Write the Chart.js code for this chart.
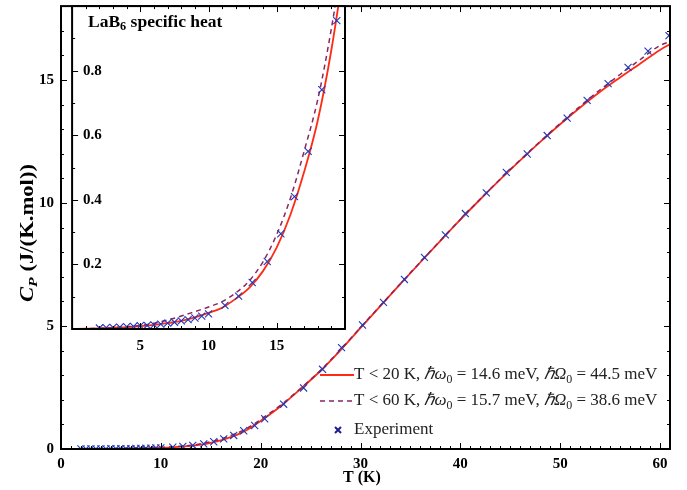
<!DOCTYPE html>
<html>
<head>
<meta charset="utf-8">
<script src="https://cdn.jsdelivr.net/npm/chart.js@4.4.0/dist/chart.umd.min.js"></script>
<style>
  body { margin: 0; background: #fff; }
  #wrap { position: relative; width: 687px; height: 490px; }
  #main { position: absolute; left: 0; top: 0; }
  #inset { position: absolute; left: 66px; top: 0; }
</style>
</head>
<body>
<div id="wrap">
  <canvas id="main" width="687" height="490"></canvas>
  <canvas id="inset" width="290" height="362"></canvas>
</div>
<script>
// experiment, LaB6 specific heat (J/(K.mol))
const expT = [2.0, 2.5, 3.0, 3.5, 4.0, 4.5, 5.0, 5.5, 6.0, 6.5, 7.0, 7.5, 8.0, 8.5, 9.0, 9.5, 10.0,
  11.2, 12.2, 13.2, 14.3, 15.3, 16.3, 17.3, 18.3, 19.4, 20.4, 22.3, 24.3, 26.2, 28.1,
  30.2, 32.3, 34.4, 36.4, 38.5, 40.5, 42.6, 44.6, 46.7, 48.7, 50.7, 52.7, 54.8, 56.8, 58.8, 60.9];
const expCp = [0.003, 0.004, 0.005, 0.006, 0.007, 0.008, 0.010, 0.011, 0.013, 0.015, 0.018, 0.021, 0.025, 0.029, 0.034, 0.040, 0.047,
  0.073, 0.102, 0.144, 0.209, 0.295, 0.41, 0.55, 0.741, 0.955, 1.23, 1.82, 2.48, 3.24, 4.12,
  5.04, 5.96, 6.89, 7.79, 8.70, 9.57, 10.41, 11.24, 11.99, 12.74, 13.45, 14.17, 14.85, 15.51, 16.17, 16.80];

// model curves
const fitT = [0, 1, 2, 3, 4, 5, 6, 7, 8, 9, 10, 11, 12, 13, 14, 15, 16, 17, 18, 19, 20,
  22, 24, 26, 28, 30, 32, 34, 36, 38, 40, 42, 44, 46, 48, 50, 52, 54, 56, 58, 60, 61];
const fit20Cp = [0, 0.001, 0.002, 0.004, 0.006, 0.009, 0.013, 0.018, 0.025, 0.036, 0.050, 0.066, 0.094, 0.128, 0.180, 0.253, 0.354, 0.486, 0.645, 0.864, 1.14,
  1.74, 2.44, 3.18, 4.02, 4.92, 5.82, 6.71, 7.59, 8.46, 9.32, 10.15, 10.96, 11.73, 12.48, 13.20, 13.88, 14.52, 15.10, 15.66, 16.22, 16.45];
const fit60Cp = [0, 0.001, 0.002, 0.004, 0.007, 0.011, 0.018, 0.028, 0.040, 0.054, 0.068, 0.085, 0.112, 0.150, 0.209, 0.293, 0.405, 0.55, 0.71, 0.93, 1.20,
  1.78, 2.46, 3.20, 4.04, 4.94, 5.83, 6.72, 7.60, 8.47, 9.33, 10.16, 10.97, 11.75, 12.50, 13.23, 13.93, 14.60, 15.22, 15.82, 16.40, 16.56];

const legend20 = ['T < 20 K, ', '14.6', '44.5'];
const legend60 = ['T < 60 K, ', '15.7', '38.6'];

const SERIF = "'Liberation Serif', 'Times New Roman', serif";
const RED = '#ff2a14';
const PURPLE = '#8a2560';
const BLUE = '#2038b8';

const pts = (xs, ys) => xs.map((x, i) => ({ x: x, y: ys[i] }));

function datasets() {
  return [
    { type: 'line', data: pts(fitT, fit20Cp), borderColor: RED, borderWidth: 1.8, pointRadius: 0,
      cubicInterpolationMode: 'monotone', fill: false, order: 2 },
    { type: 'line', data: pts(fitT, fit60Cp), borderColor: PURPLE, borderWidth: 1.5, borderDash: [5, 4], pointRadius: 0,
      cubicInterpolationMode: 'monotone', fill: false, order: 1 },
    { type: 'scatter', data: pts(expT, expCp), showLine: false, pointStyle: 'crossRot', pointRadius: 5,
      borderColor: BLUE, borderWidth: 1.1, order: 0 }
  ];
}

function runsWidth(ctx, runs, size) {
  let w = 0;
  runs.forEach(r => {
    const s = r.sub ? size * 0.7 : size;
    ctx.font = `${r.it ? 'italic ' : ''}${r.b ? 'bold ' : ''}${s}px ${SERIF}`;
    w += ctx.measureText(r.t).width;
  });
  return w;
}

function drawRuns(ctx, x, y, runs, size) {
  let cx = x;
  ctx.textBaseline = 'middle';
  ctx.textAlign = 'left';
  runs.forEach(r => {
    const s = r.sub ? size * 0.7 : size;
    ctx.font = `${r.it ? 'italic ' : ''}${r.b ? 'bold ' : ''}${s}px ${SERIF}`;
    ctx.fillText(r.t, cx, y + (r.sub ? size * 0.3 : 0));
    cx += ctx.measureText(r.t).width;
  });
}

// Mathematica-style frame with inward ticks
function drawFrame(chart, xt, yt) {
  const { ctx, chartArea: a, scales: { x, y } } = chart;
  ctx.save();
  ctx.strokeStyle = '#000';
  ctx.lineWidth = 1;
  ctx.beginPath();
  const nx = Math.round((xt.max - xt.min) / xt.minor);
  for (let i = 0; i <= nx; i++) {
    const v = xt.min + i * xt.minor;
    const px = Math.round(x.getPixelForValue(v)) + 0.5;
    const L = (i % xt.every === 0) ? 6 : 3;
    ctx.moveTo(px, a.bottom); ctx.lineTo(px, a.bottom - L);
    ctx.moveTo(px, a.top); ctx.lineTo(px, a.top + L);
  }
  const ny = Math.round((yt.max - yt.min) / yt.minor);
  for (let i = 0; i <= ny; i++) {
    const v = yt.min + i * yt.minor;
    const py = Math.round(y.getPixelForValue(v)) + 0.5;
    const L = (i % yt.every === 0) ? 6 : 3;
    ctx.moveTo(a.left, py); ctx.lineTo(a.left + L, py);
    ctx.moveTo(a.right, py); ctx.lineTo(a.right - L, py);
  }
  ctx.stroke();
  ctx.lineWidth = 2;
  ctx.strokeRect(a.left, a.top, a.right - a.left, a.bottom - a.top);
  ctx.restore();
}

function legendRuns(item) {
  return [
    { t: item[0] }, { t: 'ℏω', it: 1 }, { t: '0', sub: 1 }, { t: ' = ' + item[1] + ' meV, ' },
    { t: 'ℏΩ', it: 1 }, { t: '0', sub: 1 }, { t: ' = ' + item[2] + ' meV' }
  ];
}

const mainDecor = {
  id: 'mainDecor',
  afterDraw(chart) {
    const ctx = chart.ctx;
    drawFrame(chart, { min: 0, max: 61, minor: 1, every: 10 }, { min: 0, max: 18, minor: 1, every: 5 });
    ctx.save();
    ctx.fillStyle = '#000';
    // axis titles
    const xr = [{ t: 'T (K)', b: 1 }];
    drawRuns(ctx, 362 - runsWidth(ctx, xr, 16) / 2, 478, xr, 16);
    const yr = [{ t: 'C', b: 1, it: 1 }, { t: 'P', b: 1, it: 1, sub: 1 }, { t: ' (J/(K.mol))', b: 1 }];
    const yw = runsWidth(ctx, yr, 18);
    ctx.save();
    ctx.translate(28, 233);
    ctx.rotate(-Math.PI / 2);
    ctx.scale(138 / yw, 1);
    drawRuns(ctx, -yw / 2, 0, yr, 18);
    ctx.restore();
    // legend
    ctx.lineWidth = 2;
    ctx.strokeStyle = RED;
    ctx.beginPath(); ctx.moveTo(320, 375); ctx.lineTo(354, 375); ctx.stroke();
    ctx.lineWidth = 1.5;
    ctx.strokeStyle = PURPLE;
    ctx.setLineDash([5, 4]);
    ctx.beginPath(); ctx.moveTo(320, 401); ctx.lineTo(354, 401); ctx.stroke();
    ctx.setLineDash([]);
    ctx.strokeStyle = '#1c1c90';
    ctx.lineWidth = 2;
    ctx.beginPath();
    ctx.moveTo(335, 427); ctx.lineTo(341, 433);
    ctx.moveTo(341, 427); ctx.lineTo(335, 433);
    ctx.stroke();
    ctx.fillStyle = '#222';
    drawRuns(ctx, 354, 375, legendRuns(legend20), 17);
    drawRuns(ctx, 354, 401, legendRuns(legend60), 17);
    drawRuns(ctx, 354, 430, [{ t: 'Experiment' }], 17);
    ctx.restore();
  }
};

const insetDecor = {
  id: 'insetDecor',
  beforeDraw(chart) {
    const { ctx, chartArea: a } = chart;
    ctx.save();
    ctx.fillStyle = '#fff';
    ctx.fillRect(a.left, a.top, a.right - a.left, a.bottom - a.top);
    ctx.restore();
  },
  afterDraw(chart) {
    const ctx = chart.ctx;
    drawFrame(chart, { min: 0, max: 20, minor: 1, every: 5 }, { min: 0, max: 1, minor: 0.1, every: 2 });
    ctx.save();
    ctx.fillStyle = '#000';
    drawRuns(ctx, 22, 22, [{ t: 'LaB', b: 1 }, { t: '6', b: 1, sub: 1 }, { t: ' specific heat', b: 1 }], 17.5);
    ctx.restore();
  }
};

const tickFont = { family: SERIF, weight: 'bold', size: 15 };

// keep the plot frame exactly where set: drop the label overhang padding
function fixSize(prop, val) {
  return s => {
    s[prop] = val;
    s.paddingLeft = 0; s.paddingRight = 0; s.paddingTop = 0; s.paddingBottom = 0;
  };
}

new Chart(document.getElementById('main'), {
  type: 'scatter',
  data: { datasets: datasets() },
  plugins: [mainDecor],
  options: {
    responsive: false,
    animation: false,
    layout: { padding: { left: 0, right: 17, top: 2, bottom: 0 } },
    plugins: { legend: { display: false }, tooltip: { enabled: false } },
    scales: {
      x: {
        type: 'linear', min: 0, max: 61,
        grid: { display: false, drawTicks: false },
        border: { display: false },
        ticks: { stepSize: 10, includeBounds: false, font: tickFont, color: '#000', padding: 6, maxRotation: 0 },
        afterFit: fixSize('height', 41)
      },
      y: {
        type: 'linear', min: 0, max: 18,
        grid: { display: false, drawTicks: false },
        border: { display: false },
        ticks: { stepSize: 5, includeBounds: false, font: tickFont, color: '#000', padding: 7 },
        afterFit: fixSize('width', 61)
      }
    }
  }
});

new Chart(document.getElementById('inset'), {
  type: 'scatter',
  data: { datasets: datasets() },
  plugins: [insetDecor],
  options: {
    responsive: false,
    animation: false,
    layout: { padding: { left: 0, right: 11, top: 2, bottom: 0 } },
    plugins: { legend: { display: false }, tooltip: { enabled: false } },
    scales: {
      x: {
        type: 'linear', min: 0, max: 20,
        grid: { display: false, drawTicks: false },
        border: { display: false },
        ticks: { stepSize: 5, font: tickFont, color: '#000', padding: 8, maxRotation: 0,
          callback: v => (v > 0 && v < 20) ? String(v) : '' },
        afterFit: fixSize('height', 33)
      },
      y: {
        type: 'linear', min: 0, max: 1,
        grid: { display: false, drawTicks: false },
        border: { display: false },
        ticks: { stepSize: 0.2, mirror: true, font: tickFont, color: '#000', padding: 11,
          callback: v => (v > 0.01 && v < 0.99) ? v.toFixed(1) : '' },
        afterFit: fixSize('width', 3)
      }
    }
  }
});
</script>
</body>
</html>
